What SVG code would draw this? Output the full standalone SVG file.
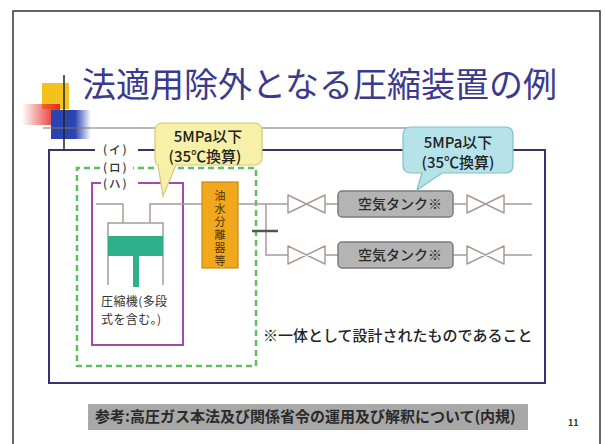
<svg xmlns="http://www.w3.org/2000/svg" width="606" height="444" viewBox="0 0 606 444">
  <style>
    text { font-family: "Noto Sans CJK JP", "Noto Sans", sans-serif; }
    .title { font-size: 34px; fill: #3b3a8e; }
    .lbl { font-size: 11.5px; fill: #333; font-weight: 500; letter-spacing: 2px; }
    .cap { font-size: 12px; fill: #333; letter-spacing: 0.4px; }
    .call { font-size: 15px; fill: #222; text-anchor: middle; font-weight: 500; }
    .tank { fill: #b4b4b4; stroke: #7c7c7c; stroke-width: 1.5; }
    .tanktxt { font-size: 14px; fill: #2a2a2a; text-anchor: middle; font-weight: 500; }
    .pipe { fill: none; stroke: #a89a9a; stroke-width: 1.5; }
    .valve { fill: #fff; stroke: #a89a9a; stroke-width: 1.5; stroke-linejoin: round; }
    .sep { font-size: 11px; fill: #4a3300; writing-mode: vertical-rl; letter-spacing: 2px; }
  </style>
  <defs>
    <linearGradient id="redFade" x1="0" y1="0" x2="1" y2="0">
      <stop offset="0" stop-color="#e83030" stop-opacity="0"/>
      <stop offset="0.7" stop-color="#e83030" stop-opacity="0.8"/>
      <stop offset="1" stop-color="#e02828" stop-opacity="1"/>
    </linearGradient>
    <linearGradient id="blueFade" x1="0" y1="0" x2="1" y2="0">
      <stop offset="0" stop-color="#2b44b0"/>
      <stop offset="0.6" stop-color="#2b44b0"/>
      <stop offset="1" stop-color="#2b44b0" stop-opacity="0"/>
    </linearGradient>
  </defs>

  <rect width="606" height="444" fill="#ffffff"/>
  <!-- slide border -->
  <rect x="13" y="11" width="587" height="450" fill="none" stroke="#333" stroke-width="1.5"/>

  <!-- title ornament -->
  <g id="ornament">
    <rect x="42" y="83" width="27" height="26" fill="#f4c21c"/>
    <rect x="22" y="104" width="38" height="21" fill="url(#redFade)"/>
    <rect x="51" y="110" width="40" height="29" fill="url(#blueFade)"/>
    <line x1="64" y1="75" x2="64" y2="149" stroke="#222" stroke-width="1.5"/>
    <line x1="43" y1="128" x2="460" y2="128" stroke="#777" stroke-width="1.2"/>
  </g>

  <text class="title" x="82" y="97">法適用除外となる圧縮装置の例</text>

  <!-- enclosing boundaries (イ)(ロ)(ハ) -->
  <g id="boundaries">
    <path d="M95,150 H49 V383 H545 V150 H138" fill="none" stroke="#3d2f6e" stroke-width="2"/>
    <path d="M100,168 H77 V366 H256 V168 H133" fill="none" stroke="#5cc05c" stroke-width="2.5" stroke-dasharray="6 4"/>
    <path d="M101,183 H92 V345 H183 V183 H138" fill="none" stroke="#a548a8" stroke-width="2"/>
    <text class="lbl" x="103" y="154">(イ)</text>
    <text class="lbl" x="103" y="172">(ロ)</text>
    <text class="lbl" x="103" y="188">(ハ)</text>
  </g>

  <!-- compressor -->
  <g id="compressor">
    <path class="pipe" d="M96,204 H123 V223"/>
    <path class="pipe" d="M150,223 V204 H202"/>
    <path d="M108,285 V223 H163 V285" fill="#fff" stroke="#a89a9a" stroke-width="1.5"/>
    <rect x="108" y="236" width="55" height="20" fill="#2fb08a"/>
    <rect x="133" y="256" width="6" height="31" fill="#2fb08a"/>
    <text class="cap" x="101" y="306">圧縮機(多段</text>
    <text class="cap" x="101" y="324">式を含む。)</text>
  </g>

  <!-- oil / water separator -->
  <g id="separator">
    <rect x="202" y="182" width="36" height="86" fill="#f2a81d" stroke="#c88a10" stroke-width="1.2"/>
    <text class="sep" x="220" y="190">油水分離器等</text>
  </g>

  <!-- piping -->
  <g id="connectors">
    <path class="pipe" d="M238,204 H288 M325,204 H338 M453,204 H467 M504,204 H532"/>
    <path class="pipe" d="M266,204 V255 H288 M325,255 H338 M453,255 H467 M504,255 H532"/>
    <line x1="252" y1="231" x2="278" y2="231" stroke="#555" stroke-width="2.5"/>
    <path class="valve" d="M288,195 L325,213 V195 L288,213 Z"/>
    <path class="valve" d="M467,195 L504,213 V195 L467,213 Z"/>
    <path class="valve" d="M288,246 L325,264 V246 L288,264 Z"/>
    <path class="valve" d="M467,246 L504,264 V246 L467,264 Z"/>
  </g>

  <!-- air tanks -->
  <g id="tank1">
    <rect class="tank" x="338" y="191" width="115" height="26" rx="4"/>
    <text class="tanktxt" x="400" y="209">空気タンク※</text>
  </g>
  <g id="tank2">
    <rect class="tank" x="338" y="242" width="115" height="26" rx="4"/>
    <text class="tanktxt" x="400" y="260">空気タンク※</text>
  </g>

  <!-- pressure callouts -->
  <g id="callout-yellow">
    <path d="M163,123 H254 Q262,123 262,131 V157 Q262,165 254,165 H176 L163,196 L158,165 Q155,165 155,157 V131 Q155,123 163,123 Z" fill="#f7f0a8" stroke="#d6c678" stroke-width="1.2"/>
    <text class="call" x="208" y="142">5MPa以下</text>
    <text class="call" x="205" y="162">(35℃換算)</text>
  </g>
  <g id="callout-blue">
    <path d="M411,127 H505 Q513,127 513,135 V165 Q513,173 505,173 H442 L417,190 L422,173 H411 Q403,173 403,165 V135 Q403,127 411,127 Z" fill="#b6e3ea" stroke="#7fbfcc" stroke-width="1.2"/>
    <text class="call" x="458" y="148">5MPa以下</text>
    <text class="call" x="458" y="168">(35℃換算)</text>
  </g>

  <text x="263" y="341" style="font-size:15px;font-weight:500" fill="#222">※一体として設計されたものであること</text>

  <!-- reference note -->
  <g id="reference">
    <rect x="88" y="404" width="440" height="26" fill="#a8a8a8"/>
    <text x="95" y="422" style="font-size:15px;font-weight:bold" fill="#2a2a2a">参考:高圧ガス本法及び関係省令の運用及び解釈について(内規)</text>
  </g>
  <text x="568" y="426" style="font-size:9px;font-weight:bold" fill="#333">11</text>
</svg>
